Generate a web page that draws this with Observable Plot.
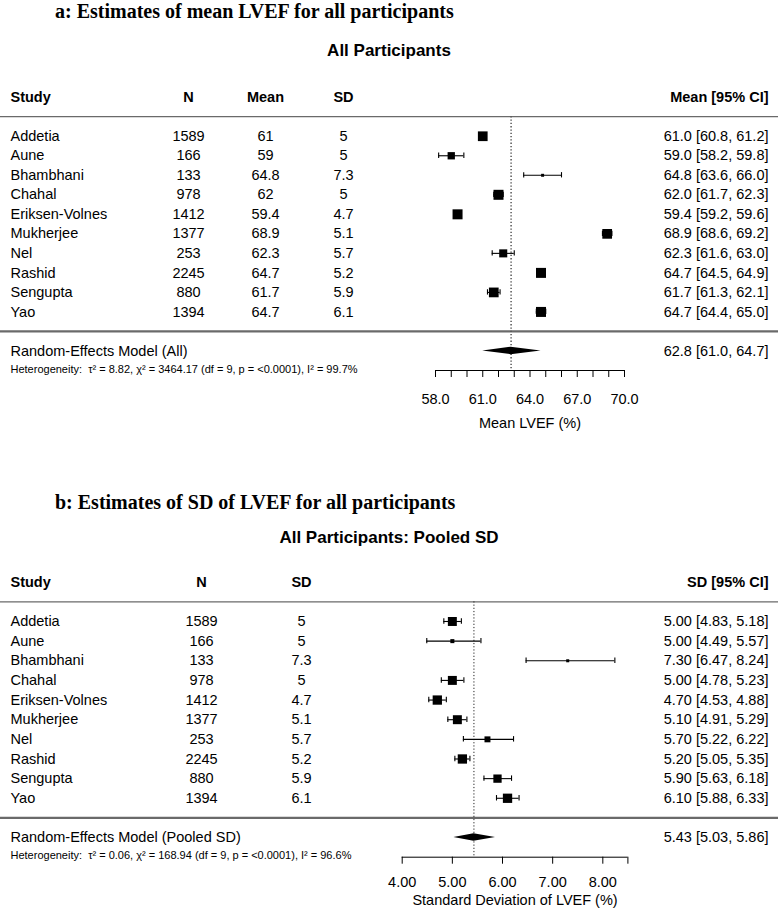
<!DOCTYPE html>
<html><head><meta charset="utf-8">
<script src="https://cdn.jsdelivr.net/npm/d3@7"></script>
<script src="https://cdn.jsdelivr.net/npm/@observablehq/plot@0.6"></script>
<style>
body{margin:0;background:#fff;}
#page{position:relative;width:778px;height:917px;overflow:hidden;background:#fff;}
.title{position:absolute;left:55px;font-family:"Liberation Serif","Times New Roman",serif;font-weight:bold;font-size:20px;line-height:22px;white-space:nowrap;color:#000;}
.sub{position:absolute;left:0;width:778px;text-align:center;font-family:"Liberation Sans",Arial,sans-serif;font-weight:bold;font-size:17px;line-height:19px;color:#000;}
.panel{position:absolute;left:0;}
</style></head>
<body><div id="page">
<div class="title" style="top:0px">a: Estimates of mean LVEF for all participants</div>
<div class="sub" style="top:41px">All Participants</div>
<div class="panel" id="pa" style="top:80px"></div>
<div class="title" style="top:491px">b: Estimates of SD of LVEF for all participants</div>
<div class="sub" style="top:528px">All Participants: Pooled SD</div>
<div class="panel" id="pb" style="top:565px"></div>
</div>
<script>
// ---- data ----
const studies = ["Addetia","Aune","Bhambhani","Chahal","Eriksen-Volnes","Mukherjee","Nel","Rashid","Sengupta","Yao"];
const nVals  = [1589, 166, 133, 978, 1412, 1377, 253, 2245, 880, 1394];
const meanVals = [61, 59, 64.8, 62, 59.4, 68.9, 62.3, 64.7, 61.7, 64.7];
const sdVals = [5, 5, 7.3, 5, 4.7, 5.1, 5.7, 5.2, 5.9, 6.1];
// panel a: mean LVEF CIs
const meanLo = [60.8, 58.2, 63.6, 61.7, 59.2, 68.6, 61.6, 64.5, 61.3, 64.4];
const meanHi = [61.2, 59.8, 66.0, 62.3, 59.6, 69.2, 63.0, 64.9, 62.1, 65.0];
const weightA = [10.5, 7.9, 3.2, 10.8, 10.8, 10.5, 8.7, 10.8, 10.5, 10.8];
const pooledA = [62.8, 61.0, 64.7];          // estimate, lower, upper
const hetA = ["8.82", "3464.17", 9, "<0.0001", "99.7"]; // tau2, chi2, df, p, I2
const ticksA = [58,59,60,61,62,63,64,65,66,67,68,69,70];
const tickLabelsA = [58, 61, 64, 67, 70];
// panel b: SD of LVEF CIs
const sdLo = [4.83, 4.49, 6.47, 4.78, 4.53, 4.91, 5.22, 5.05, 5.63, 5.88];
const sdHi = [5.18, 5.57, 8.24, 5.23, 4.88, 5.29, 6.22, 5.35, 6.18, 6.33];
const weightB = [10.7, 4.8, 3.6, 10.7, 11.1, 10.7, 7.1, 11.1, 9.9, 11.1];
const pooledB = [5.43, 5.03, 5.86];
const hetB = ["0.06", "168.94", 9, "<0.0001", "96.6"];
const ticksB = [4, 5, 6, 7, 8, 8.5];
const tickLabelsB = [4, 5, 6, 7, 8];

function forest(o) {
  const k = o.studies.length;
  const rows = o.studies.map((s, i) => ({study: s, n: String(o.n[i]), m: o.m ? String(o.m[i]) : null, sd: String(o.sd[i]),
    est: o.est[i], lo: o.lo[i], hi: o.hi[i], w: o.w[i], row: i}));
  const f = d3.format(o.fmt);
  const ci = (e, l, h) => `${f(e)} [${f(l)}, ${f(h)}]`;
  const headerRow = -2, lineTop = -1, lineBot = k, reRow = k + 1, axisRow = k + 2;
  const W = 778, L = o.marginLeft, R = o.marginRight;
  const hh = 0.19;
  const diamond = [
    {x: o.pooled[1], y1: reRow, y2: reRow},
    {x: o.pooled[0], y1: reRow - hh, y2: reRow + hh},
    {x: o.pooled[2], y1: reRow, y2: reRow}
  ];
  const labelSet = new Set(o.tickLabels);
  const marks = [];
  marks.push(Plot.ruleY([lineTop], {stroke: "#6a6a6a", strokeWidth: 1.3, insetLeft: -L, insetRight: -R}));
  marks.push(Plot.ruleY([lineBot], {stroke: "#6a6a6a", strokeWidth: 2.3, insetLeft: -L, insetRight: -R}));
  marks.push(Plot.ruleX([o.pooled[0]], {y1: lineTop, y2: axisRow, stroke: o.dotColor, strokeWidth: o.dotWidth, strokeDasharray: o.dash}));
  marks.push(Plot.ruleY(rows, {y: "row", x1: "lo", x2: "hi", stroke: "#000", strokeWidth: 1.1}));
  marks.push(Plot.ruleX(rows, {x: "lo", y1: d => d.row - 0.5, y2: d => d.row + 0.5, insetTop: 7.1, insetBottom: 7.1, stroke: "#000", strokeWidth: 1.1}));
  marks.push(Plot.ruleX(rows, {x: "hi", y1: d => d.row - 0.5, y2: d => d.row + 0.5, insetTop: 7.1, insetBottom: 7.1, stroke: "#000", strokeWidth: 1.1}));
  marks.push(Plot.dot(rows, {x: "est", y: "row", r: "w", symbol: "square", fill: "#000"}));
  marks.push(Plot.areaY(diamond, {x: "x", y1: "y1", y2: "y2", fill: "#000"}));
  marks.push(Plot.ruleY([axisRow], {stroke: "#000", strokeWidth: 1}));
  marks.push(Plot.axisX({ticks: o.ticks, tickSize: 7, tickPadding: o.tickPad, tickFormat: d => labelSet.has(d) ? f(d) : "", label: null}));
  marks.push(Plot.text([o.xlabel], {frameAnchor: "bottom", dy: o.xlabelDy, text: d => d}));
  const hdr = [{t: "Study", row: headerRow}];
  marks.push(Plot.text(hdr, {y: "row", text: "t", frameAnchor: "left", dx: 10 - L, textAnchor: "start", fontWeight: "bold"}));
  o.cols.forEach(c => {
    marks.push(Plot.text([{t: c.label, row: headerRow}], {y: "row", text: "t", frameAnchor: "left", dx: c.cx - L, textAnchor: "middle", fontWeight: "bold"}));
    marks.push(Plot.text(rows, {y: "row", text: c.key, frameAnchor: "left", dx: c.cx - L, textAnchor: "middle"}));
  });
  marks.push(Plot.text([{t: o.rightHeader, row: headerRow}], {y: "row", text: "t", frameAnchor: "right", dx: 768 - (W - R), textAnchor: "end", fontWeight: "bold"}));
  marks.push(Plot.text(rows, {y: "row", text: "study", frameAnchor: "left", dx: 10 - L, textAnchor: "start"}));
  marks.push(Plot.text(rows, {y: "row", text: d => ci(d.est, d.lo, d.hi), frameAnchor: "right", dx: 768 - (W - R), textAnchor: "end"}));
  marks.push(Plot.text([{t: o.reLabel, row: reRow}], {y: "row", text: "t", frameAnchor: "left", dx: 10 - L, textAnchor: "start"}));
  marks.push(Plot.text([{t: ci(o.pooled[0], o.pooled[1], o.pooled[2]), row: reRow}], {y: "row", text: "t", frameAnchor: "right", dx: 768 - (W - R), textAnchor: "end"}));
  const h = o.het;
  const hetText = `Heterogeneity:  \u03C4\u00B2 = ${h[0]}, \u03C7\u00B2 = ${h[1]} (df = ${h[2]}, p = ${h[3]}), I\u00B2 = ${h[4]}%`;
  marks.push(Plot.text([{t: hetText, row: reRow}], {y: "row", text: "t", frameAnchor: "left", dx: 10 - L, dy: 18.3, textAnchor: "start", fontSize: 11}));

  return Plot.plot({
    width: W, height: o.height,
    marginLeft: L, marginRight: R, marginTop: o.marginTop, marginBottom: o.marginBottom,
    x: {domain: o.xDomain},
    y: {domain: [axisRow, headerRow], axis: null},
    r: {type: "linear", domain: [0, d3.max(o.w)], range: [0, o.maxSide / Math.sqrt(Math.PI)]},
    style: {fontFamily: '"Liberation Sans", Arial, sans-serif', fontSize: "14.5px", color: "#000", background: "transparent", overflow: "visible"},
    marks
  });
}

document.getElementById("pa").append(forest({
  studies, n: nVals, m: meanVals, sd: sdVals,
  est: meanVals, lo: meanLo, hi: meanHi, w: weightA, pooled: pooledA, het: hetA,
  fmt: ".1f", xDomain: [58, 70], ticks: ticksA, tickLabels: tickLabelsA,
  xlabel: "Mean LVEF (%)", xlabelDy: 57, tickPad: 16,
  rightHeader: "Mean [95% CI]", reLabel: "Random-Effects Model (All)",
  cols: [{label: "N", key: "n", cx: 188}, {label: "Mean", key: "m", cx: 265}, {label: "SD", key: "sd", cx: 343}],
  marginLeft: 435, marginRight: 154, marginTop: 16.7, marginBottom: 66, height: 356,
  maxSide: 10, dotColor: "#555", dotWidth: 1.5, dash: "1.3,2"
}));

document.getElementById("pb").append(forest({
  studies, n: nVals, m: null, sd: sdVals,
  est: sdVals, lo: sdLo, hi: sdHi, w: weightB, pooled: pooledB, het: hetB,
  fmt: ".2f", xDomain: [4, 8.5], ticks: ticksB, tickLabels: tickLabelsB,
  xlabel: "Standard Deviation of LVEF (%)", xlabelDy: 48, tickPad: 13,
  rightHeader: "SD [95% CI]", reLabel: "Random-Effects Model (Pooled SD)",
  cols: [{label: "N", key: "n", cx: 201}, {label: "SD", key: "sd", cx: 301}],
  marginLeft: 401.7, marginRight: 150.6, marginTop: 16.7, marginBottom: 60.3, height: 352,
  maxSide: 9.3, dotColor: "#222", dotWidth: 1, dash: "1.2,2"
}));
</script>
</body></html>
